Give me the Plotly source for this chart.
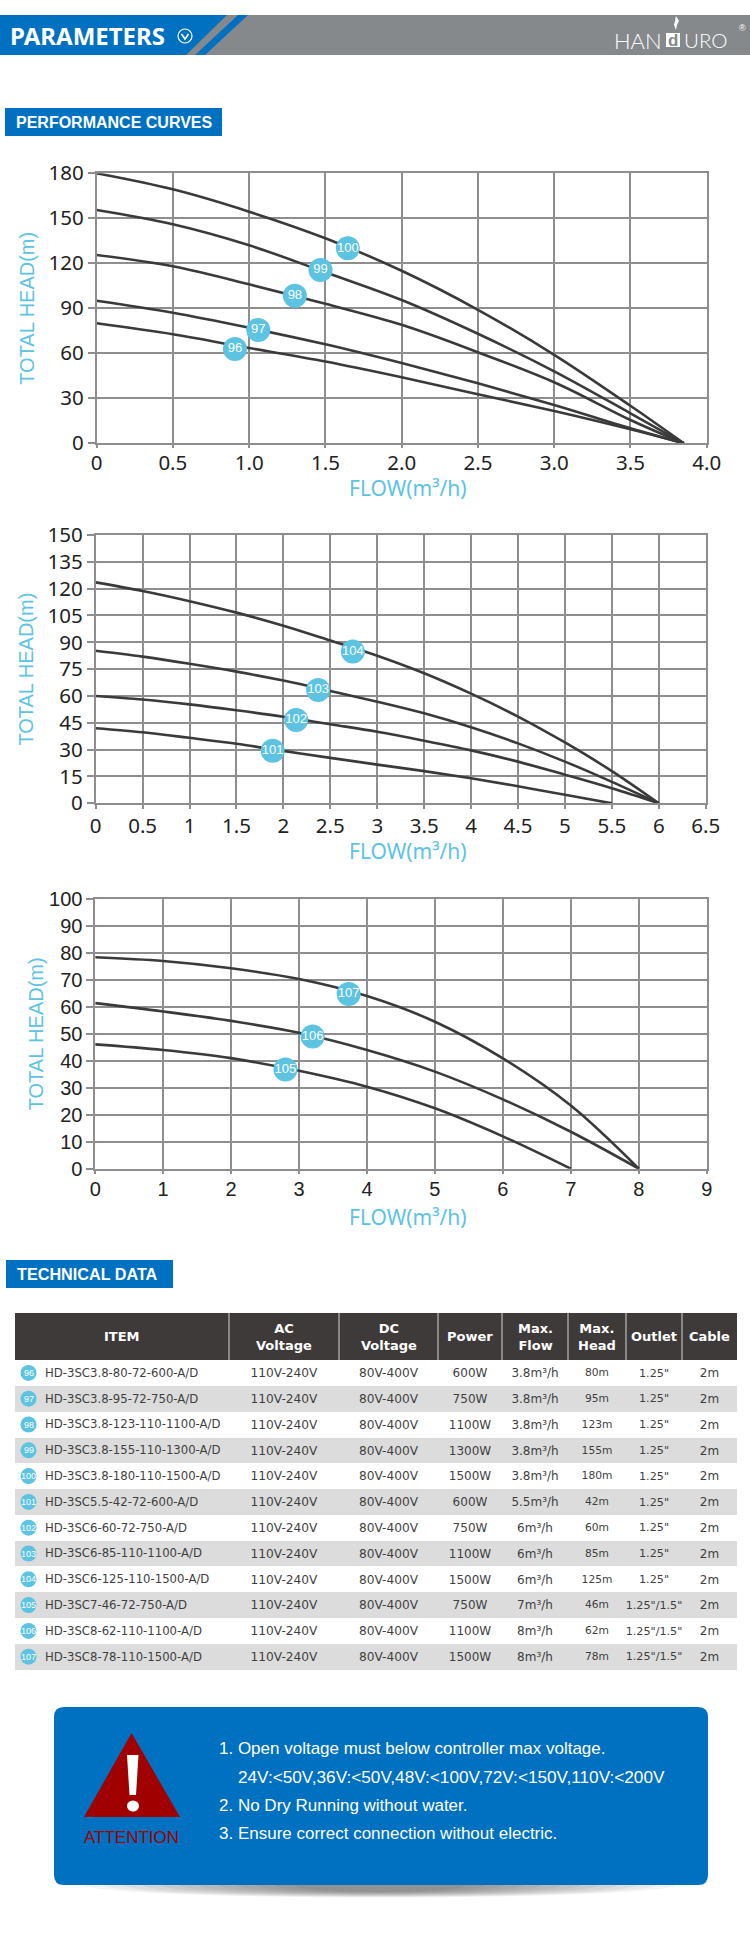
import plotly.graph_objects as go

W, H = 750, 1933

# Pump curves, upper chart
FLOW_A = [0, 0.5, 1.0, 1.5, 2.0, 2.5, 3.0, 3.5, 3.85]
HEAD_96 = [80, 72.7, 63.5, 54.5, 44, 32.7, 21.5, 9.3, 0]
HEAD_97 = [95, 87, 77, 66, 53.5, 40, 25.5, 10, 0]
HEAD_98 = [125.5, 118, 106, 93, 79, 60.7, 40.7, 15.5, 0]
HEAD_99 = [155.5, 146, 132, 114, 95.5, 73, 48, 20, 0]
HEAD_100 = [180, 169.3, 154.4, 136.7, 115, 89, 59, 25, 0]
BADGE_A = ["96", "97", "98", "99", "100"]
BADGE_A_X = [0.907, 1.06, 1.30, 1.468, 1.647]
BADGE_A_Y = [62.9, 75.6, 98.4, 115.6, 130]

# Pump curves, middle chart
FLOW_B = [0, 0.5, 1, 1.5, 2, 2.5, 3, 3.5, 4, 4.5, 5, 5.5, 6]
FLOW_101 = [0, 0.5, 1, 1.5, 2, 2.5, 3, 3.5, 4, 4.5, 5, 5.5]
HEAD_101 = [42, 39.7, 36.6, 33.3, 29.3, 25.4, 21.6, 18, 14, 9.5, 4.8, 0]
HEAD_102 = [60, 58, 55.3, 52, 48.4, 44.2, 40, 35, 29.6, 23.3, 16, 8.4, 0]
HEAD_103 = [85.3, 82, 78, 73.6, 68.6, 62.8, 56.8, 50.3, 42.5, 33.5, 23.3, 12, 0]
HEAD_104 = [123.5, 118.7, 113, 106.6, 99.3, 91, 82.5, 72.7, 61.3, 48.5, 34, 18, 0]
BADGE_B = ["101", "102", "103", "104"]
BADGE_B_X = [1.886, 2.136, 2.37, 2.74]
BADGE_B_Y = [29.4, 46.6, 63.4, 84.8]

# Pump curves, lower chart
FLOW_C = [0, 1, 2, 3, 4, 5, 6, 7, 8]
FLOW_105 = [0, 1, 2, 3, 4, 5, 6, 7]
HEAD_105 = [46.1, 44, 41, 36.3, 30.4, 22.4, 12, 0]
HEAD_106 = [61.4, 58.3, 54.8, 50.4, 44, 36, 25.7, 13.7, 0]
HEAD_107 = [78.4, 77, 74.3, 70.3, 64, 54.5, 40.9, 23.4, 0]
BADGE_C = ["105", "106", "107"]
BADGE_C_X = [2.8, 3.2, 3.73]
BADGE_C_Y = [36.8, 49, 64.8]

# Tick labels
XTICKS_A = ["0", "0.5", "1.0", "1.5", "2.0", "2.5", "3.0", "3.5", "4.0"]
XTICKS_B = ["0", "0.5", "1", "1.5", "2", "2.5", "3", "3.5", "4", "4.5", "5", "5.5", "6", "6.5"]
XTICKS_C = ["0", "1", "2", "3", "4", "5", "6", "7", "8", "9"]

# Technical data
TABLE_HEADER = ["ITEM", "AC<br>Voltage", "DC<br>Voltage", "Power", "Max.<br>Flow", "Max.<br>Head", "Outlet", "Cable"]
ROW_IDS = ["96", "97", "98", "99", "100", "101", "102", "103", "104", "105", "106", "107"]
ITEMS = ["HD-3SC3.8-80-72-600-A/D", "HD-3SC3.8-95-72-750-A/D", "HD-3SC3.8-123-110-1100-A/D",
         "HD-3SC3.8-155-110-1300-A/D", "HD-3SC3.8-180-110-1500-A/D", "HD-3SC5.5-42-72-600-A/D",
         "HD-3SC6-60-72-750-A/D", "HD-3SC6-85-110-1100-A/D", "HD-3SC6-125-110-1500-A/D",
         "HD-3SC7-46-72-750-A/D", "HD-3SC8-62-110-1100-A/D", "HD-3SC8-78-110-1500-A/D"]
AC_V = ["110V-240V"] * 12
DC_V = ["80V-400V"] * 12
POWER = ["600W", "750W", "1100W", "1300W", "1500W", "600W", "750W", "1100W", "1500W", "750W", "1100W", "1500W"]
MAX_FLOW = ["3.8m³/h"] * 5 + ["5.5m³/h"] + ["6m³/h"] * 3 + ["7m³/h"] + ["8m³/h"] * 2
MAX_HEAD = ["80m", "95m", "123m", "155m", "180m", "42m", "60m", "85m", "125m", "46m", "62m", "78m"]
OUTLET = ['1.25"'] * 9 + ['1.25"/1.5"'] * 3
CABLE = ["2m"] * 12

NOTES = ["1. Open voltage must below controller max voltage.",
         "24V:<50V,36V:<50V,48V:<100V,72V:<150V,110V:<200V",
         "2. No Dry Running without water.",
         "3. Ensure correct connection without electric."]

BLUE = "#0071c1"
SKY = "#5cc3e2"
CURVE = "#3a3a3a"
GRID = "#8e8e8e"
SANS = "Liberation Sans"


def px(x):
    return x / W


def py(y):
    return 1 - y / H


def poly(points, fill):
    d = "M " + " L ".join(f"{px(x):.5f},{py(y):.5f}" for x, y in points) + " Z"
    return dict(type="path", xref="paper", yref="paper", path=d, fillcolor=fill, line_width=0)


def rect(x0, y0, x1, y1, fill):
    return dict(type="rect", xref="paper", yref="paper", x0=px(x0), x1=px(x1), y0=py(y0), y1=py(y1),
                fillcolor=fill, line_width=0)


def oval(cx, cy, rx, ry, fill, opacity=1.0):
    return dict(type="circle", xref="paper", yref="paper", x0=px(cx - rx), x1=px(cx + rx),
                y0=py(cy + ry), y1=py(cy - ry), fillcolor=fill, line_width=0, opacity=opacity)


def rounded(x0, y0, x1, y1, r, fill):
    a, b, c, d = px(x0), px(x1), py(y0), py(y1)
    rx, ry = r / W, r / H
    path = (f"M {a + rx},{c} L {b - rx},{c} Q {b},{c} {b},{c - ry} L {b},{d + ry} Q {b},{d} {b - rx},{d} "
            f"L {a + rx},{d} Q {a},{d} {a},{d + ry} L {a},{c - ry} Q {a},{c} {a + rx},{c} Z")
    return dict(type="path", xref="paper", yref="paper", path=path, fillcolor=fill, line_width=0)


def label(text, x, y, size, color="white", family=SANS, anchor="left", weight="normal"):
    return dict(text=text, x=px(x), y=py(y), xref="paper", yref="paper", xanchor=anchor, yanchor="middle",
                showarrow=False, font=dict(size=size, color=color, family=family, weight=weight))


fig = go.Figure()


def add_curves(axis, series):
    for xs, ys in series:
        fig.add_trace(go.Scatter(x=xs, y=ys, xaxis=f"x{axis}", yaxis=f"y{axis}", mode="lines",
                                 line=dict(color=CURVE, width=2.6, shape="spline", smoothing=1.0),
                                 hoverinfo="skip", showlegend=False))


def add_badges(axis, xs, ys, names):
    fig.add_trace(go.Scatter(x=xs, y=ys, xaxis=f"x{axis}", yaxis=f"y{axis}", mode="markers+text", text=names,
                             textposition="middle center",
                             marker=dict(size=24, color=SKY),
                             textfont=dict(size=13, color="white", family=SANS),
                             hoverinfo="skip", showlegend=False))


add_curves(1, [(FLOW_A, HEAD_96), (FLOW_A, HEAD_97), (FLOW_A, HEAD_98), (FLOW_A, HEAD_99), (FLOW_A, HEAD_100)])
add_badges(1, BADGE_A_X, BADGE_A_Y, BADGE_A)
add_curves(2, [(FLOW_101, HEAD_101), (FLOW_B, HEAD_102), (FLOW_B, HEAD_103), (FLOW_B, HEAD_104)])
add_badges(2, BADGE_B_X, BADGE_B_Y, BADGE_B)
add_curves(3, [(FLOW_105, HEAD_105), (FLOW_C, HEAD_106), (FLOW_C, HEAD_107)])
add_badges(3, BADGE_C_X, BADGE_C_Y, BADGE_C)

# Data sheet table: a narrow first column leaves room for the numbered markers
COL_EDGES = [15, 37, 229, 339, 438, 502, 568, 626, 682, 737]
HEADER_EDGES = [15, 229, 339, 438, 502, 568, 626, 682, 737]
widths = [b - a for a, b in zip(COL_EDGES, COL_EDGES[1:])]
stripes = ["white" if i % 2 == 0 else "#dcdcdc" for i in range(12)]
HEAD_TOP, ROW0, ROW_H = 1313, 1360, 25.8
fig.add_trace(go.Table(
    domain=dict(x=[px(15), px(737)], y=[py(1672), py(ROW0)]),
    columnwidth=widths,
    header=dict(values=[""] * 9, height=0.1, line=dict(width=0), fill_color="white", font=dict(size=1)),
    cells=dict(values=[[""] * 12, ITEMS, AC_V, DC_V, POWER, MAX_FLOW, MAX_HEAD, OUTLET, CABLE],
               height=ROW_H, align=["left"] * 2 + ["center"] * 7,
               fill_color=[stripes] * 9, line=dict(width=0, color="rgba(0,0,0,0)"),
               font=dict(size=[11, 11.7, 12.2, 12.2, 12, 12, 10.7, 11.2, 12],
                         color="#3f3f3f", family="DejaVu Sans"))))


def axis_style(**kw):
    return dict(showgrid=True, gridcolor=GRID, gridwidth=1.6, showline=True, linecolor=GRID, linewidth=1.6,
                mirror=True, zeroline=False, ticks="outside", tickcolor=GRID, tickwidth=1.6, **kw)


shapes = [
    # banner
    rect(0, 15, 750, 55, "#85898c"),
    poly([(0, 15), (227, 15), (186, 55), (0, 55)], BLUE),
    poly([(238, 15), (248, 15), (205, 55), (195, 55)], BLUE),
    # logo tile and flame
    rect(666, 33, 680, 47, "white"),
    poly([(676, 16), (679, 21), (677, 25), (676, 30), (674, 25), (675, 21)], "white"),
    # section tags
    rect(5, 108, 222, 136, BLUE),
    rect(6, 1260, 173, 1288, BLUE),
    # table header band
    rect(15, HEAD_TOP, 737, ROW0, "#3e3a39"),
]
for edge in HEADER_EDGES[1:-1]:
    shapes.append(rect(edge - 0.5, HEAD_TOP, edge + 0.5, ROW0, "#d4d4d4"))
# chevron badge beside the banner title
shapes.append(dict(type="circle", xref="paper", yref="paper", x0=px(178), x1=px(192), y0=py(43), y1=py(29),
                   line=dict(color="white", width=1.2)))
shapes.append(dict(type="path", xref="paper", yref="paper",
                   path=f"M {px(181.5)},{py(34)} L {px(185)},{py(39)} L {px(188.5)},{py(34)}",
                   line=dict(color="white", width=1.6)))

# soft shadow under the notice panel
for i in range(12):
    shapes.append(oval(380, 1885, 295 - i * 19, 12.5 - i * 0.5, "black", 0.045))
shapes += [
    rounded(54, 1707, 708, 1885, 10, BLUE),
    poly([(131.6, 1733), (180, 1817), (84, 1817)], "#a00000"),
    poly([(127, 1755), (138.5, 1755), (136, 1795), (129.5, 1795)], "white"),
    oval(133, 1806, 6, 5.5, "white"),
]

# numbered markers beside the table rows
for i in range(12):
    shapes.append(oval(28.5, ROW0 + ROW_H * (i + 0.5), 8, 8, SKY))

annotations = [
    label("PARAMETERS", 8, 36, 24, family="Noto Sans", weight="bold"),
    label("HAN", 664, 40, 22, family="Lato", anchor="right", weight=300),
    label("d", 673, 40, 17, color="#85898c", anchor="center", weight="bold"),
    label("URO", 682, 40, 20.5, family="Lato", weight=300),
    label("®", 737, 28, 9),
    label("PERFORMANCE CURVES", 13.5, 122, 16, weight="bold"),
    label("TECHNICAL DATA", 14.5, 1274, 16.2, weight="bold"),
    label("FLOW(m³/h)", 408, 488, 21, color=SKY, family="Noto Sans", anchor="center"),
    label("FLOW(m³/h)", 408, 851, 21, color=SKY, family="Noto Sans", anchor="center"),
    label("FLOW(m³/h)", 408, 1217, 21, color=SKY, family="Noto Sans", anchor="center"),
    label("ATTENTION", 131, 1837, 17, color="#a00000", anchor="center"),
    label(NOTES[0], 217, 1748, 17),
    label(NOTES[1], 236, 1777, 17.2),
    label(NOTES[2], 217, 1805, 17),
    label(NOTES[3], 217, 1833, 17),
]
for i, name in enumerate(ROW_IDS):
    annotations.append(label(name, 28.5, ROW0 + ROW_H * (i + 0.5), 9, anchor="center"))
for text, a, b in zip(TABLE_HEADER, HEADER_EDGES, HEADER_EDGES[1:]):
    annotations.append(label(text, (a + b) / 2, (HEAD_TOP + ROW0) / 2, 13, anchor="center",
                             family="DejaVu Sans", weight="bold"))

title_font = dict(size=20, color=SKY, family=SANS)
tick_font = dict(size=20.5, color="#222", family="Noto Sans")
tick_font_c = dict(size=20, color="#222", family=SANS)

fig.update_layout(
    width=W, height=H, margin=dict(l=0, r=0, t=0, b=0, autoexpand=False), paper_bgcolor="white", plot_bgcolor="white",
    showlegend=False, hovermode=False, shapes=shapes, annotations=annotations,
    xaxis1=axis_style(domain=[px(96.6), px(706.7)], range=[0, 4], anchor="y1", tickvals=[0, .5, 1, 1.5, 2, 2.5, 3, 3.5, 4],
                      ticktext=XTICKS_A, ticklen=3, ticklabelstandoff=-3, tickfont=tick_font),
    yaxis1=axis_style(domain=[py(443.3), py(173.3)], range=[0, 180], anchor="x1", dtick=30, ticklen=7,
                      tickfont=tick_font, title=dict(text="TOTAL HEAD(m)", font=title_font, standoff=9)),
    xaxis2=axis_style(domain=[px(95.7), px(705.7)], range=[0, 6.5], anchor="y2",
                      tickvals=[i * 0.5 for i in range(14)], ticktext=XTICKS_B, ticklen=4, ticklabelstandoff=-1,
                      tickfont=tick_font),
    yaxis2=axis_style(domain=[py(803.3), py(535)], range=[0, 150], anchor="x2", dtick=15, ticklen=7,
                      tickfont=tick_font, title=dict(text="TOTAL HEAD(m)", font=title_font, standoff=9)),
    xaxis3=axis_style(domain=[px(95.2), px(706.7)], range=[0, 9], anchor="y3", tickvals=list(range(10)),
                      ticktext=XTICKS_C, ticklen=3, ticklabelstandoff=-2, tickfont=tick_font_c),
    yaxis3=axis_style(domain=[py(1168.7), py(899)], range=[0, 100], anchor="x3", dtick=10, ticklen=7,
                      tickfont=tick_font_c, title=dict(text="TOTAL HEAD(m)", font=title_font, standoff=0)),
)

fig.write_html("out.html", config=dict(displayModeBar=False))
